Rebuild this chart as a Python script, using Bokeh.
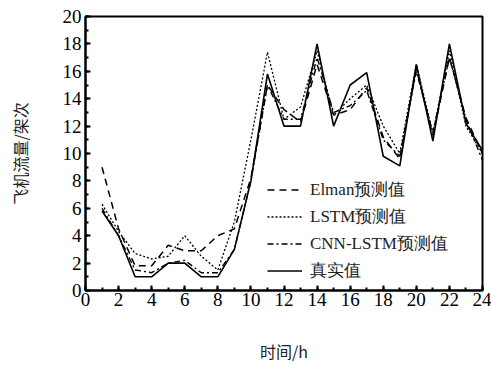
from bokeh.plotting import figure
from bokeh.embed import file_html
from bokeh.resources import INLINE
from bokeh.models import Legend, LegendItem, FixedTicker

hours = list(range(1, 25))
true_vals = [5.8, 4.0, 1.0, 1.0, 2.0, 2.0, 1.0, 1.0, 3.0, 8.0, 15.8, 12.0, 12.0, 18.0, 12.0, 15.0, 15.9, 9.8, 9.1, 16.5, 10.9, 18.0, 12.2, 10.2]
elman_vals = [9.0, 4.5, 1.8, 1.8, 3.3, 2.9, 2.9, 4.0, 4.5, 8.2, 15.0, 13.2, 12.3, 16.5, 12.8, 13.2, 14.8, 11.2, 9.6, 16.2, 11.3, 17.0, 12.6, 10.0]
lstm_vals = [6.3, 4.3, 2.7, 2.3, 2.5, 4.0, 2.5, 1.5, 5.0, 11.0, 17.4, 12.5, 13.4, 17.5, 12.8, 14.0, 15.0, 12.0, 10.0, 16.5, 11.5, 17.5, 12.0, 10.0]
cnn_vals = [6.0, 4.0, 1.5, 1.3, 2.0, 2.2, 1.3, 1.3, 3.0, 8.0, 15.0, 12.5, 12.5, 17.0, 13.0, 13.5, 14.6, 11.0, 9.8, 16.0, 11.5, 17.0, 12.5, 9.5]
x_ticks = list(range(0, 25, 2))
y_ticks = list(range(0, 21, 2))
labels = ["Elman预测值", "LSTM预测值", "CNN-LSTM预测值", "真实值"]

SERIF = "Liberation Serif"

p = figure(width=491, height=365, output_backend="svg", toolbar_location=None,
           x_range=(0, 24), y_range=(0, 20))
p.min_border_left = 85
p.min_border_top = 16
p.min_border_right = 9
p.min_border_bottom = 72
p.grid.visible = False
p.outline_line_color = "black"
p.outline_line_width = 2
p.background_fill_color = "white"
p.border_fill_color = "white"

r1 = p.line(hours, elman_vals, line_color="black", line_width=1.5, line_dash="7 5")
r2 = p.line(hours, lstm_vals, line_color="black", line_width=1.3, line_dash="2 2")
r3 = p.line(hours, cnn_vals, line_color="black", line_width=1.4, line_dash="6 3 2 3")
r4 = p.line(hours, true_vals, line_color="black", line_width=1.6)

for ax in (p.xaxis[0], p.yaxis[0]):
    ax.axis_line_width = 2
    ax.axis_line_color = "black"
    ax.major_tick_in = 5
    ax.major_tick_out = 0
    ax.minor_tick_in = 3
    ax.minor_tick_out = 0
    ax.major_tick_line_width = 2
    ax.minor_tick_line_width = 2
    ax.major_label_text_font = SERIF
    ax.major_label_text_font_size = "19px"
    ax.major_label_text_color = "black"
    ax.axis_label_text_font = "Noto Sans CJK SC"
    ax.axis_label_text_font_size = "16px"
    ax.axis_label_text_font_style = "normal"
    ax.axis_label_text_color = "#222222"

p.xaxis[0].ticker = FixedTicker(ticks=x_ticks, minor_ticks=list(range(0, 25)))
p.yaxis[0].ticker = FixedTicker(ticks=y_ticks, minor_ticks=list(range(0, 21)))
p.xaxis[0].major_label_standoff = 2
p.yaxis[0].major_label_standoff = 4
p.xaxis[0].axis_label = "时间/h"
p.xaxis[0].axis_label_standoff = 30
p.yaxis[0].axis_label = "飞机流量/架次"
p.yaxis[0].axis_label_standoff = 28

legend = Legend(items=[LegendItem(label=labels[0], renderers=[r1]),
                       LegendItem(label=labels[1], renderers=[r2]),
                       LegendItem(label=labels[2], renderers=[r3]),
                       LegendItem(label=labels[3], renderers=[r4])],
                location=(182, 6))
legend.label_text_font = SERIF
legend.label_text_font_size = "17px"
legend.label_text_color = "#222222"
legend.glyph_width = 35
legend.glyph_height = 27
legend.label_height = 27
legend.label_standoff = 8
legend.spacing = 0
legend.padding = 0
legend.margin = 0
legend.border_line_color = None
legend.background_fill_alpha = 0
p.add_layout(legend, "center")

open("out.html", "w").write(file_html(p, INLINE))
